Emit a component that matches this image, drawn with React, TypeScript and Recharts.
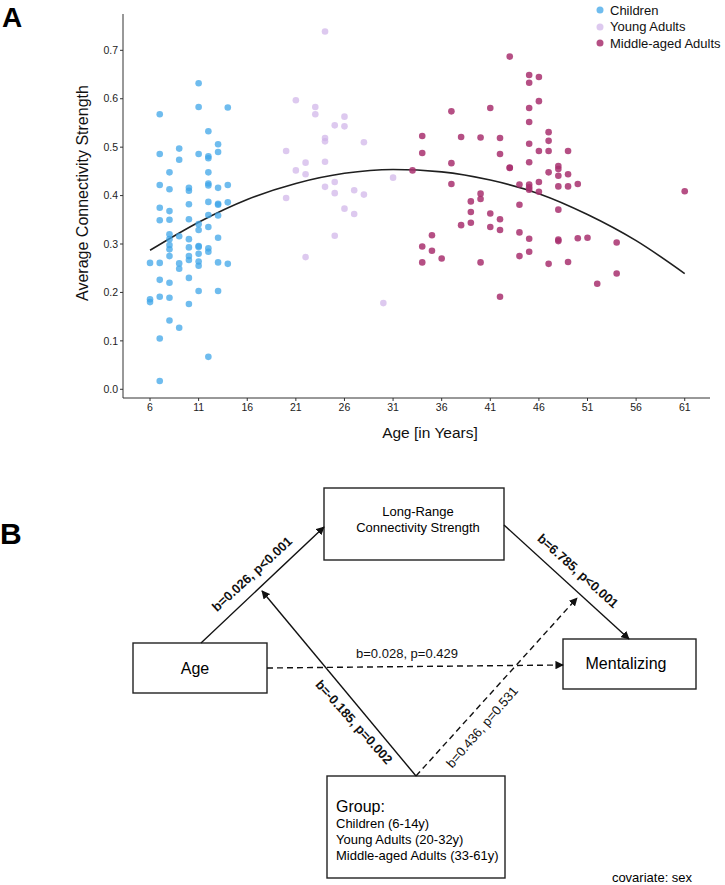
import React from "react";
import {
  ComposedChart,
  Scatter,
  Line,
  XAxis,
  YAxis,
} from "recharts";

const FONT = '"Liberation Sans", Arial, Helvetica, sans-serif';

// [age, average connectivity strength]
const childrenPoints: [number, number][] = [
  [7, 0.568], [11, 0.632], [11, 0.583], [14, 0.582], [12, 0.533], [7, 0.486],
  [9, 0.497], [9, 0.474], [11, 0.486], [12, 0.481], [12, 0.477], [13, 0.506],
  [13, 0.49], [8, 0.448], [12, 0.448], [7, 0.422], [8, 0.413], [10, 0.416],
  [10, 0.41], [12, 0.421], [12, 0.425], [13, 0.416], [14, 0.422], [7, 0.375],
  [10, 0.382], [12, 0.387], [13, 0.383], [13, 0.381], [14, 0.386], [7, 0.349],
  [8, 0.368], [8, 0.35], [10, 0.351], [11, 0.341], [12, 0.36], [13, 0.359],
  [12, 0.335], [11, 0.329], [8, 0.32], [9, 0.316], [8, 0.31], [10, 0.31],
  [13, 0.313], [8, 0.298], [8, 0.289], [10, 0.293], [11, 0.296], [11, 0.294],
  [12, 0.291], [12, 0.284], [11, 0.28], [8, 0.275], [10, 0.275], [10, 0.267],
  [11, 0.264], [6, 0.261], [7, 0.261], [9, 0.26], [11, 0.255], [13, 0.262],
  [14, 0.259], [9, 0.249], [7, 0.226], [8, 0.22], [10, 0.23], [11, 0.203],
  [13, 0.203], [6, 0.18], [6, 0.186], [7, 0.191], [8, 0.189], [10, 0.176],
  [8, 0.142], [9, 0.127], [7, 0.105], [12, 0.067], [7, 0.017],
];

const youngAdultPoints: [number, number][] = [
  [24, 0.739], [21, 0.597], [23, 0.583], [23, 0.568], [26, 0.563], [25, 0.545],
  [26, 0.543], [24, 0.519], [24, 0.512], [20, 0.492], [22, 0.468], [21, 0.452],
  [22, 0.444], [24, 0.47], [25, 0.428], [24, 0.418], [25, 0.405], [27, 0.411],
  [28, 0.402], [20, 0.395], [26, 0.373], [27, 0.362], [28, 0.51], [31, 0.437],
  [25, 0.317], [22, 0.273], [30, 0.178],
];

const middleAgedPoints: [number, number][] = [
  [43, 0.687], [45, 0.649], [46, 0.645], [45, 0.633], [46, 0.595], [37, 0.574],
  [41, 0.581], [45, 0.581], [45, 0.552], [47, 0.531], [47, 0.513], [34, 0.523],
  [38, 0.521], [40, 0.52], [42, 0.519], [45, 0.507], [46, 0.492], [47, 0.492],
  [49, 0.492], [34, 0.488], [42, 0.486], [37, 0.467], [45, 0.469], [43, 0.458],
  [43, 0.457], [33, 0.452], [48, 0.461], [48, 0.455], [47, 0.448], [48, 0.441],
  [49, 0.444], [37, 0.424], [44, 0.423], [45, 0.423], [45, 0.417], [45, 0.412],
  [46, 0.428], [46, 0.408], [48, 0.419], [49, 0.419], [50, 0.424], [61, 0.409],
  [40, 0.404], [40, 0.393], [39, 0.388], [44, 0.381], [48, 0.371], [39, 0.366],
  [41, 0.363], [42, 0.351], [38, 0.339], [39, 0.344], [41, 0.335], [42, 0.329],
  [44, 0.324], [35, 0.318], [45, 0.311], [48, 0.309], [48, 0.306], [50, 0.312],
  [51, 0.313], [54, 0.303], [34, 0.295], [35, 0.286], [36, 0.27], [34, 0.262],
  [40, 0.262], [44, 0.275], [45, 0.284], [47, 0.259], [49, 0.263], [54, 0.239],
  [52, 0.218], [42, 0.191],
];

// quadratic age trend, read at the tick ages
const trendAges = [6, 11, 16, 21, 26, 31, 36, 41, 46, 51, 56, 61];
const trendValues = [0.287, 0.345, 0.392, 0.425, 0.446, 0.454, 0.449, 0.432, 0.404, 0.361, 0.307, 0.239];

const ageTicks = [6, 11, 16, 21, 26, 31, 36, 41, 46, 51, 56, 61];
const strengthTicks = [0, 0.1, 0.2, 0.3, 0.4, 0.5, 0.6, 0.7];

const groups = [
  { name: "Children", points: childrenPoints, color: "#3fa6e8", opacity: 0.75 },
  { name: "Young Adults", points: youngAdultPoints, color: "#cfb2e8", opacity: 0.7 },
  { name: "Middle-aged Adults", points: middleAgedPoints, color: "#a8306e", opacity: 0.85 },
];

const toRows = (pts: [number, number][]) => pts.map(([age, conn]) => ({ age, conn }));
const trendRows = trendAges.map((age, i) => ({ age, conn: trendValues[i] }));

const dotShape = (color: string, opacity: number) => (p: any) =>
  <circle cx={p.cx} cy={p.cy} r={3.3} fill={color} fillOpacity={opacity} />;

const tickStyle = { fill: "#222", fontSize: 10.5, fontFamily: FONT };

function ScatterPanel() {
  return (
    <div style={{ position: "absolute", left: 0, top: 0, width: 725, height: 460 }}>
      <ComposedChart width={725} height={460} margin={{ top: 14, right: 15, bottom: 32, left: 83 }}>
        <XAxis
          type="number"
          dataKey="age"
          domain={[3.22, 63.6]}
          ticks={ageTicks}
          allowDataOverflow
          height={30}
          tickSize={3}
          tickMargin={3}
          tick={tickStyle}
          stroke="#333"
        />
        <YAxis
          type="number"
          dataKey="conn"
          domain={[-0.018, 0.775]}
          ticks={strengthTicks}
          allowDataOverflow
          width={40}
          tickSize={3}
          tickMargin={2}
          tick={tickStyle}
          tickFormatter={(v: number) => v.toFixed(1)}
          stroke="#333"
        />
        {groups.map((g) => (
          <Scatter
            key={g.name}
            name={g.name}
            data={toRows(g.points)}
            fill={g.color}
            shape={dotShape(g.color, g.opacity)}
            isAnimationActive={false}
          />
        ))}
        <Line
          data={trendRows}
          dataKey="conn"
          type="monotone"
          dot={false}
          stroke="#1f1f1f"
          strokeWidth={1.6}
          isAnimationActive={false}
        />
      </ComposedChart>

      <div style={{ position: "absolute", left: 2, top: 2, fontSize: 28, fontWeight: 700, fontFamily: FONT }}>A</div>

      <div
        style={{
          position: "absolute",
          left: 83,
          top: 193,
          transform: "translate(-50%, -50%) rotate(-90deg)",
          whiteSpace: "nowrap",
          fontSize: 16,
          fontFamily: FONT,
          color: "#111",
        }}
      >
        Average Connectivity Strength
      </div>
      <div
        style={{
          position: "absolute",
          left: 430,
          top: 433,
          transform: "translate(-50%, -50%)",
          whiteSpace: "nowrap",
          fontSize: 15.5,
          fontFamily: FONT,
          color: "#111",
        }}
      >
        Age [in Years]
      </div>

      <div style={{ position: "absolute", left: 594, top: 2, fontFamily: FONT, fontSize: 13, color: "#111" }}>
        {groups.map((g) => (
          <div key={g.name} style={{ display: "flex", alignItems: "center", height: 16.5 }}>
            <svg width={12} height={12} style={{ marginRight: 4 }}>
              <circle cx={6} cy={6} r={3.5} fill={g.color} fillOpacity={g.opacity} />
            </svg>
            {g.name}
          </div>
        ))}
      </div>
    </div>
  );
}

function Arrow({ x1, y1, x2, y2, dashed }: { x1: number; y1: number; x2: number; y2: number; dashed?: boolean }) {
  return (
    <line
      x1={x1}
      y1={y1}
      x2={x2}
      y2={y2}
      stroke="#111"
      strokeWidth={1.4}
      strokeDasharray={dashed ? "6 4" : undefined}
      markerEnd="url(#head)"
    />
  );
}

function PathLabel({ x, y, angle, bold, text }: { x: number; y: number; angle: number; bold?: boolean; text: string }) {
  return (
    <text
      x={x}
      y={y}
      transform={`rotate(${angle} ${x} ${y})`}
      textAnchor="middle"
      dominantBaseline="central"
      fontSize={13}
      fontWeight={bold ? 700 : 400}
      fontFamily={FONT}
      fill="#111"
    >
      {text}
    </text>
  );
}

function MediationPanel() {
  const box = { fill: "#fff", stroke: "#222", strokeWidth: 1.4 };
  return (
    <svg width={725} height={885} style={{ position: "absolute", left: 0, top: 0 }}>
      <defs>
        <marker id="head" viewBox="0 0 10 10" refX={9} refY={5} markerWidth={6} markerHeight={6} orient="auto">
          <path d="M0,0 L10,5 L0,10 z" fill="#111" />
        </marker>
      </defs>

      <text x={0} y={544} fontSize={30} fontWeight={700} fontFamily={FONT} fill="#000">B</text>

      <rect x={324} y={488} width={180} height={72} {...box} />
      <text x={418} y={511} textAnchor="middle" dominantBaseline="central" fontSize={13} fontFamily={FONT}>Long-Range</text>
      <text x={418} y={527} textAnchor="middle" dominantBaseline="central" fontSize={13} fontFamily={FONT}>Connectivity Strength</text>

      <rect x={133} y={643} width={134} height={50} {...box} />
      <text x={195} y={668} textAnchor="middle" dominantBaseline="central" fontSize={16} fontFamily={FONT}>Age</text>

      <rect x={563} y={639} width={133} height={50} {...box} />
      <text x={626} y={663} textAnchor="middle" dominantBaseline="central" fontSize={16} fontFamily={FONT}>Mentalizing</text>

      <rect x={327} y={776} width={178} height={102} {...box} />
      <text x={336} y={806} dominantBaseline="central" fontSize={16} fontFamily={FONT}>Group:</text>
      <text x={336} y={823} dominantBaseline="central" fontSize={13} fontFamily={FONT}>Children (6-14y)</text>
      <text x={336} y={839} dominantBaseline="central" fontSize={13} fontFamily={FONT}>Young Adults (20-32y)</text>
      <text x={336} y={855} dominantBaseline="central" fontSize={13} fontFamily={FONT}>Middle-aged Adults (33-61y)</text>

      <Arrow x1={201} y1={643} x2={324} y2={527} />
      <Arrow x1={504} y1={525} x2={629} y2={639} />
      <Arrow x1={267} y1={668} x2={563} y2={665} dashed />
      <Arrow x1={416} y1={776} x2={262} y2={591} />
      <Arrow x1={416} y1={776} x2={577} y2={598} dashed />

      <PathLabel x={252} y={574} angle={-42.5} bold text="b=0.026, p<0.001" />
      <PathLabel x={578} y={571} angle={42} bold text="b=6.785, p<0.001" />
      <PathLabel x={407} y={653} angle={0} text="b=0.028, p=0.429" />
      <PathLabel x={354} y={722} angle={48} bold text="b=-0.185, p=0.002" />
      <PathLabel x={482} y={727} angle={-49.4} text="b=0.436, p=0.531" />

      <text x={652} y={877} textAnchor="middle" dominantBaseline="central" fontSize={13} fontFamily={FONT}>covariate: sex</text>
    </svg>
  );
}

export default function App() {
  return (
    <div style={{ position: "absolute", left: 0, top: 0, width: 725, height: 885, background: "#fff", fontFamily: FONT }}>
      <MediationPanel />
      <ScatterPanel />
    </div>
  );
}
